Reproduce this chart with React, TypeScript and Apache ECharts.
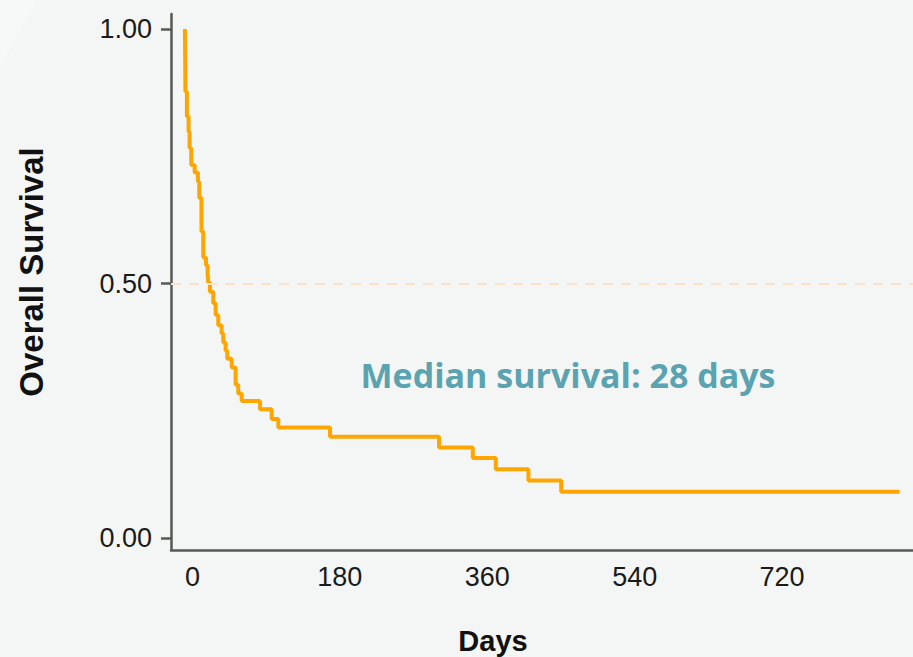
import React, { useEffect, useRef } from "react";
import * as echarts from "echarts";

// Kaplan-Meier steps: time (days) at which survival drops, and survival after the drop
const times = [0, 0.6, 2.4, 4.5, 5.7, 7.7, 11.9, 15.9, 17.5, 20.2, 22.4, 25.7, 27.7, 28.5, 30.5, 34.6, 37.5, 40.7, 44.8, 46.8, 49.7, 51.7, 57.1, 61.9, 65.1, 69.3, 91.6, 105.9, 114, 177.2, 310.3, 351.5, 379.6, 419.4, 459.4, 872.7];
const survival = [1.0, 0.877, 0.828, 0.798, 0.766, 0.733, 0.718, 0.7, 0.668, 0.602, 0.551, 0.536, 0.52, 0.502, 0.484, 0.461, 0.438, 0.418, 0.402, 0.384, 0.368, 0.352, 0.335, 0.301, 0.284, 0.269, 0.253, 0.234, 0.217, 0.199, 0.178, 0.157, 0.135, 0.113, 0.091, 0.091];
const xTicks = [0, 180, 360, 540, 720];
const yTicks = [0, 0.5, 1];
const medianLabel = "Median survival: 28 days";

export default function App() {
  const ref = useRef<HTMLDivElement>(null);
  useEffect(() => {
    if (!ref.current) return;
    const chart = echarts.init(ref.current, null, { renderer: "svg" });
    const data = times.map((t, i) => [t, survival[i]]);
    const axisColor = "#565a55";
    chart.setOption({
      animation: false,
      backgroundColor: "#f4f6f5",
      grid: { left: 171, right: 0, top: 14, bottom: 107 },
      xAxis: {
        type: "value",
        min: -17,
        max: 889,
        axisLine: { show: true, onZero: false, lineStyle: { color: axisColor, width: 2.5 } },
        axisTick: { show: false },
        splitLine: { show: false },
        axisLabel: {
          customValues: xTicks,
          fontSize: 27,
          color: "#1a1a1a",
          fontFamily: "Liberation Sans",
          margin: 13,
          padding: [0, 0, 0, 15],
        },
      },
      yAxis: {
        type: "value",
        min: -0.0236,
        max: 1.0295,
        axisLine: { show: true, onZero: false, lineStyle: { color: axisColor, width: 2.5 } },
        axisTick: { show: true, customValues: yTicks, length: 10, lineStyle: { color: axisColor, width: 2.5 } },
        splitLine: { show: false },
        axisLabel: {
          customValues: yTicks,
          formatter: (v: number) => v.toFixed(2),
          fontSize: 27,
          color: "#1a1a1a",
          fontFamily: "Liberation Sans",
          margin: 19,
        },
      },
      series: [
        {
          type: "line",
          step: "end",
          data,
          showSymbol: false,
          symbol: "none",
          lineStyle: { color: "#FFA500", width: 4 },
          markLine: {
            silent: true,
            symbol: "none",
            label: { show: false },
            lineStyle: { color: "#fde2c8", width: 2, type: [10, 8] },
            data: [{ yAxis: 0.5 }],
          },
          z: 3,
        },
      ],
      graphic: [
        {
          type: "polygon",
          shape: { points: [[0, 0], [37, 0], [0, 67]] },
          style: { fill: "#f7f8f8" },
          z: -1,
          silent: true,
        },
        {
          type: "text",
          x: 568,
          y: 375,
          style: {
            text: medianLabel,
            fontSize: 34,
            fontWeight: "bold",
            fontFamily: "Open Sans",
            fill: "#5ba3b0",
            align: "center",
            verticalAlign: "middle",
          },
        },
        {
          type: "text",
          x: 493,
          y: 641,
          style: {
            text: "Days",
            fontSize: 29,
            fontWeight: "bold",
            fontFamily: "Liberation Sans",
            fill: "#111111",
            align: "center",
            verticalAlign: "middle",
          },
        },
        {
          type: "text",
          x: 31,
          y: 272,
          rotation: Math.PI / 2,
          style: {
            text: "Overall Survival",
            fontSize: 33,
            fontWeight: "bold",
            fontFamily: "Liberation Sans",
            fill: "#111111",
            align: "center",
            verticalAlign: "middle",
          },
        },
      ],
    });
    return () => chart.dispose();
  }, []);
  return (
    <div
      ref={ref}
      style={{ position: "fixed", left: 0, top: 0, width: 913, height: 657 }}
    />
  );
}
